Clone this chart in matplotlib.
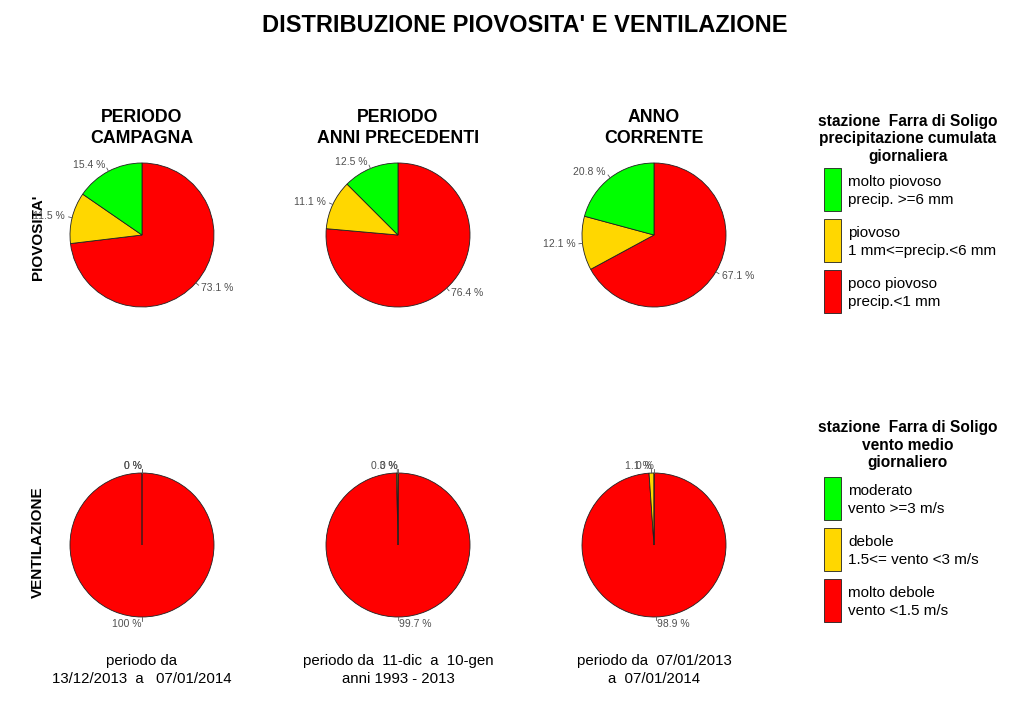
import numpy as np
import matplotlib.pyplot as plt
from matplotlib.patches import Rectangle

plt.rcParams['font.family'] = ['Liberation Sans', 'DejaVu Sans']

# --- dati ---
pioggia_classi = ["molto piovoso", "piovoso", "poco piovoso"]
vento_classi = ["moderato", "debole", "molto debole"]
colori = ["#00FF00", "#FFD700", "#FF0000"]

# percentuali (verde, giallo, rosso)
pioggia_campagna = [15.4, 11.5, 73.1]
pioggia_precedenti = [12.5, 11.1, 76.4]
pioggia_corrente = [20.8, 12.1, 67.1]

vento_campagna = [0, 0, 100]
vento_precedenti = [0, 0.3, 99.7]
vento_corrente = [0, 1.1, 98.9]

col_titoli = ["PERIODO\nCAMPAGNA", "PERIODO\nANNI PRECEDENTI", "ANNO\nCORRENTE"]
periodi = ["periodo da\n13/12/2013  a   07/01/2014",
           "periodo da  11-dic  a  10-gen\nanni 1993 - 2013",
           "periodo da  07/01/2013\na  07/01/2014"]

leg_pioggia_titolo = "stazione  Farra di Soligo\nprecipitazione cumulata\ngiornaliera"
leg_pioggia_testo = ["molto piovoso\nprecip. >=6 mm",
                     "piovoso\n1 mm<=precip.<6 mm",
                     "poco piovoso\nprecip.<1 mm"]
leg_vento_titolo = "stazione  Farra di Soligo\nvento medio\ngiornaliero"
leg_vento_testo = ["moderato\nvento >=3 m/s",
                   "debole\n1.5<= vento <3 m/s",
                   "molto debole\nvento <1.5 m/s"]

W, H = 1024, 704
fig = plt.figure(figsize=(W / 100, H / 100), dpi=100)
fig.patch.set_facecolor("white")

# overlay in pixel per testi e legende
bg = fig.add_axes([0, 0, 1, 1])
bg.set_xlim(0, W)
bg.set_ylim(H, 0)
bg.axis("off")

R_PX = 72
LIM = 1.4


def torta(cx, cy, valori):
    size = 2 * LIM * R_PX
    ax = fig.add_axes([(cx - size / 2) / W, (H - cy - size / 2) / H, size / W, size / H])
    # come pie() di R: senso orario dalle ore 12, ordine rosso, giallo, verde
    vals = valori[::-1]
    cols = colori[::-1]
    wedges, _ = ax.pie(vals, colors=cols, startangle=90, counterclock=False,
                       radius=1, wedgeprops=dict(edgecolor="#202020", linewidth=0.6),
                       normalize=True)
    for w, v in zip(wedges, vals):
        ang = np.deg2rad((w.theta1 + w.theta2) / 2)
        x, y = np.cos(ang), np.sin(ang)
        ax.plot([x, 1.05 * x], [y, 1.05 * y], color="#555555", lw=0.6)
        ha = "left" if x > 1e-6 else "right"
        ax.text(1.1 * x, 1.1 * y, f"{v:g} %", ha=ha, va="center", fontsize=7.5, color="#505050")
    ax.set_xlim(-LIM, LIM)
    ax.set_ylim(-LIM, LIM)
    ax.set_aspect("equal")
    ax.axis("off")


cxs = [142, 398, 654]
for cx, v in zip(cxs, [pioggia_campagna, pioggia_precedenti, pioggia_corrente]):
    torta(cx, 235, v)
for cx, v in zip(cxs, [vento_campagna, vento_precedenti, vento_corrente]):
    torta(cx, 545, v)

# titoli
bg.text(525, 26, "DISTRIBUZIONE PIOVOSITA' E VENTILAZIONE", ha="center", va="center",
        fontsize=17, fontweight="bold")
for cx, t in zip(cxs, col_titoli):
    bg.text(cx, 128, t, ha="center", va="center", fontsize=12.8, fontweight="bold", linespacing=1.3)
for cx, t in zip(cxs, periodi):
    bg.text(cx, 670, t, ha="center", va="center", fontsize=10.8, linespacing=1.3)

bg.text(38, 237, "PIOVOSITA'", rotation=90, ha="center", va="center", fontsize=11, fontweight="bold")
bg.text(38, 542, "VENTILAZIONE", rotation=90, ha="center", va="center", fontsize=11, fontweight="bold")


def legenda(y_tit, y_box, titolo, testi):
    bg.text(908, y_tit, titolo, ha="center", va="center", fontsize=11.2, fontweight="bold",
            linespacing=1.2)
    for i, (c, t) in enumerate(zip(colori, testi)):
        yb = y_box + i * 51
        bg.add_patch(Rectangle((824, yb), 17, 43, facecolor=c, edgecolor="#202020", lw=0.6))
        bg.text(848, yb + 23, t, ha="left", va="center", fontsize=11, linespacing=1.4)


legenda(139, 168, leg_pioggia_titolo, leg_pioggia_testo)
legenda(445, 477, leg_vento_titolo, leg_vento_testo)

fig.savefig("out.png", dpi=100)
